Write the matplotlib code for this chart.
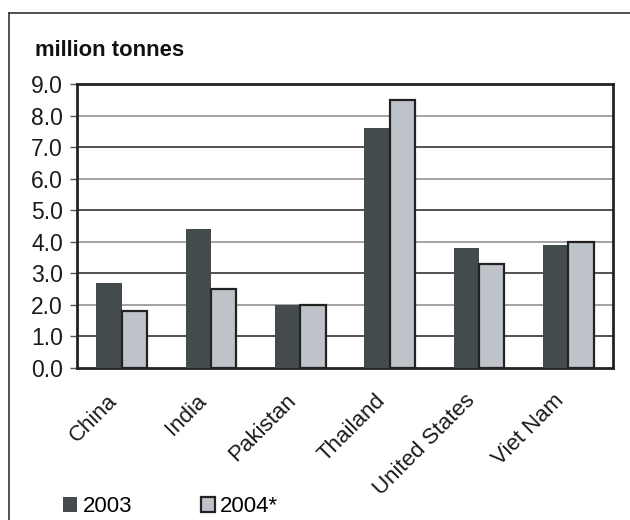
import matplotlib.pyplot as plt
import matplotlib.transforms as mtransforms
from matplotlib.lines import Line2D
from matplotlib.patches import Patch
import numpy as np

plt.rcParams['font.family'] = ['Liberation Sans', 'DejaVu Sans']

countries = ["China", "India", "Pakistan", "Thailand", "United States", "Viet Nam"]
vals_2003 = [2.7, 4.4, 2.0, 7.6, 3.8, 3.9]
vals_2004 = [1.8, 2.5, 2.0, 8.5, 3.3, 4.0]
yticks = [0, 1, 2, 3, 4, 5, 6, 7, 8, 9]

dark = '#434b4d'
light = '#bec3c9'
edge = '#222222'

fig = plt.figure(figsize=(6.3, 5.2), dpi=100)
ax = fig.add_axes([77 / 630, 1 - 368 / 520, 536 / 630, 284 / 520])

x = np.arange(len(countries))
w = 0.285
ax.bar(x - w / 2, vals_2003, w, color=dark, linewidth=0, zorder=3)
ax.bar(x + w / 2, vals_2004, w, color=light, edgecolor=edge, linewidth=1.6, zorder=3)

ax.set_xlim(-0.5, len(countries) - 0.5)
ax.set_ylim(0, 9)
ax.set_yticks(yticks)
ax.set_yticklabels([f"{t:.1f}" for t in yticks], fontsize=16.5, color='#1a1a1a')
for t in yticks[1:-1]:
    ax.axhline(t, color='#222222' if t % 2 else '#8a8a8a', linewidth=1.1, zorder=1)

ax.set_xticks(x)
ax.set_xticklabels(countries, rotation=45, ha='right', rotation_mode='anchor',
                   fontsize=16, color='#1a1a1a')
ax.tick_params(axis='x', length=0, pad=16)
ax.tick_params(axis='y', length=5, width=1, color='#555555', pad=5, direction='out')

# nudge the rotated country names to the left
shift = mtransforms.ScaledTranslation(-15 / 100, 0, fig.dpi_scale_trans)
for lbl in ax.get_xticklabels():
    lbl.set_transform(lbl.get_transform() + shift)

for s in ax.spines.values():
    s.set_linewidth(2)
    s.set_color('#222222')

fig.text(35 / 630, 1 - 51 / 520, "million tonnes", fontsize=15.8, fontweight='bold',
         va='center', ha='left', color='#111111')

# outer frame (left and top edges only)
fig.add_artist(Line2D([9 / 630, 9 / 630], [0, 1 - 13 / 520], transform=fig.transFigure,
                      color='#333333', linewidth=1.2))
fig.add_artist(Line2D([9 / 630, 1], [1 - 13 / 520, 1 - 13 / 520], transform=fig.transFigure,
                      color='#333333', linewidth=1.2))

handles = [Patch(facecolor=dark, edgecolor=dark, linewidth=0),
           Patch(facecolor=light, edgecolor=edge, linewidth=1.6)]
fig.legend(handles, ["2003", "2004*"], loc='center left', bbox_to_anchor=(52 / 630, 1 - 507 / 520),
           ncol=2, frameon=False, fontsize=16, handlelength=0.62, handleheight=0.62,
           handletextpad=0.25, columnspacing=3.1, borderpad=0)

fig.savefig("out.png", dpi=100)
